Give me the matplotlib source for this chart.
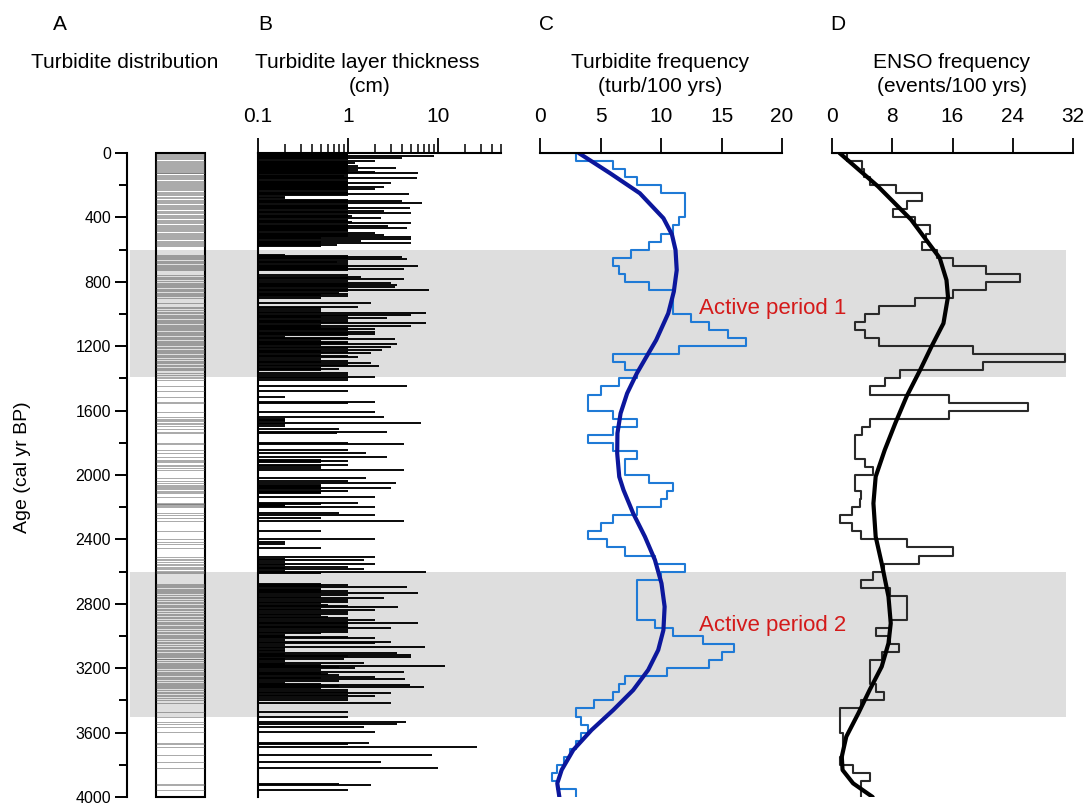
import numpy as np
import matplotlib
matplotlib.use('Agg')
import matplotlib.pyplot as plt
from matplotlib.patches import Rectangle
from matplotlib.ticker import FixedLocator, NullFormatter, NullLocator, MultipleLocator

plt.rcParams['font.family'] = ['Liberation Sans', 'DejaVu Sans']

# ---- data -------------------------------------------------------------
# turbidite layers: age (cal yr BP) and thickness (cm)
turb_age = [
    5, 12, 19, 24, 33, 40, 48, 54, 60, 68, 75, 81, 88, 95, 100, 106, 112, 116,
    122, 126, 134, 143, 150, 157, 164, 172, 178, 184, 192, 199, 204, 209, 218,
    226, 232, 240, 246, 255, 262, 271, 280, 290, 296, 304, 313, 320, 329, 336,
    344, 350, 358, 366, 375, 382, 391, 398, 406, 414, 420, 426, 437, 446, 453,
    460, 468, 474, 478, 486, 495, 502, 509, 516, 524, 528, 536, 544, 550, 557,
    564, 571, 578,
    633, 640, 644, 652, 660, 668, 675, 684, 694, 702, 710, 716, 722, 728, 760,
    768, 775, 785, 795, 805, 812, 820, 828, 834, 842, 851, 858, 867, 874, 882,
    890, 903, 934, 954, 965, 975, 985, 996, 1006, 1010, 1016, 1027, 1037, 1045,
    1050, 1058, 1066, 1074, 1080, 1085, 1095, 1102, 1110, 1118, 1124, 1132,
    1141, 1150, 1157, 1165, 1172, 1180, 1186, 1195, 1203, 1212, 1223, 1230,
    1238, 1244, 1255, 1262, 1269, 1278, 1290, 1298, 1306, 1315, 1323, 1333,
    1343, 1350, 1368, 1380, 1393, 1400, 1410,
    1447, 1476, 1513, 1544, 1555, 1606, 1642, 1650, 1658, 1665, 1675, 1685,
    1695, 1716, 1731, 1741, 1803, 1807, 1844, 1861, 1886, 1905, 1911, 1920,
    1938, 1945, 1958, 1969,
    2021, 2035, 2052, 2060, 2068, 2075, 2083, 2090, 2097, 2105, 2112, 2135,
    2172, 2178, 2182, 2188, 2193, 2201, 2234, 2248, 2269, 2284, 2348, 2397,
    2414, 2429, 2455, 2511, 2520, 2528, 2540, 2555, 2562, 2573, 2580, 2586,
    2595,
    2600, 2611, 2678, 2683, 2690, 2698, 2705, 2712, 2718, 2725, 2735, 2745,
    2755, 2766, 2777, 2787, 2795, 2807, 2812, 2822, 2830, 2838, 2848, 2863,
    2872, 2880, 2890, 2901, 2910, 2917, 2928, 2938, 2945, 2952, 2962, 2973,
    2980, 2994, 3000, 3008, 3014, 3022, 3035, 3045, 3055, 3066, 3075, 3087,
    3095, 3103, 3110, 3118, 3125, 3132, 3140, 3145, 3155, 3165, 3172, 3178,
    3186, 3195, 3201, 3210, 3221, 3228, 3236, 3245, 3252, 3260, 3269, 3280,
    3290, 3296, 3304, 3310, 3315, 3325, 3335, 3345, 3356, 3365, 3372, 3385,
    3400, 3414, 3470,
    3505, 3532, 3546, 3563, 3594, 3666, 3670, 3687, 3739, 3780, 3818, 3919,
    3925, 3956,
]
turb_cm = [
    1, 1, 9, 1, 4, 1, 2, 1, 1.2, 1, 1, 1.3, 1, 3.4, 1, 1.3, 1, 2,
    1, 6, 1, 0.9, 1, 5.8, 1, 1, 1, 3, 1, 1, 1, 2.5, 1,
    2, 1, 1, 1, 4.7, 1, 0.2, 0.2, 1, 4, 1, 6.6, 1, 1, 1,
    4.9, 1, 2.5, 1, 5, 1, 1.1, 1, 2.3, 1, 1, 1.1, 5, 1, 2.8,
    1, 4.5, 1, 1, 1, 2, 1, 2.5, 1, 5, 0.5, 5, 1.4, 0.5, 5,
    0.5, 0.75, 0.5,
    0.2, 1, 4, 1, 4.5, 1, 0.75, 1, 1, 6, 1, 1, 4.2, 1, 1,
    1.4, 1, 4.2, 1, 3, 1, 3.5, 1, 3.3, 1, 8, 1, 0.8, 1, 0.5,
    1, 0.5, 1.8, 1.3, 0.5, 0.5, 0.5, 7.4, 5, 1, 0.5, 2.7, 1, 0.5,
    1, 7.4, 0.5, 5, 0.5, 1, 2, 1, 2, 1, 2, 1,
    0.2, 1, 3.3, 0.5, 1, 1, 3.5, 0.5, 3, 1, 2.4, 0.5,
    1, 1.8, 0.5, 1, 1.3, 0.5, 1, 0.5, 1.8, 1, 2.2, 0.5,
    0.8, 0.5, 1, 1, 2, 1, 1,
    4.5, 1, 0.2, 2, 1, 2, 2.5, 0.2, 0.2, 0.2, 6.5, 0.2,
    0.2, 0.8, 2.7, 0.75, 1, 4.2, 1, 1.6, 2.7, 0.5, 1, 0.5,
    1, 0.5, 0.5, 4.2,
    1.6, 1, 3.4, 0.5, 0.5, 0.5, 3, 0.5, 1, 0.5, 0.5, 2,
    1.3, 0.2, 0.5, 0.2, 0.2, 2, 0.8, 2, 0.5, 4.2, 0.5, 2,
    0.2, 0.2, 0.5, 2, 0.2, 1.5, 0.2, 2, 0.2, 1, 0.2, 1.5,
    0.2,
    7.4, 0.5, 0.5, 1, 0.5, 4.5, 0.5, 0.5, 1, 0.5, 6, 1,
    0.5, 2.5, 1, 1, 0.5, 0.6, 1, 3.6, 0.5, 2, 1, 1,
    0.5, 0.6, 1, 2, 1, 6, 1, 1, 1, 3, 1, 1,
    0.5, 0.2, 0.2, 1, 2, 0.2, 3, 2, 0.2, 7.2, 0.2, 0.2,
    0.2, 3.5, 0.2, 5, 1, 5, 0.2, 0.9, 0.2, 1.5, 0.2, 0.5,
    12, 0.8, 1.2, 0.5, 4.2, 0.5, 0.6, 0.8, 2, 0.5, 4.3, 0.8,
    0.2, 0.5, 4.9, 0.8, 7, 0.5, 1, 1, 3, 1, 2, 1,
    1, 3, 1,
    1, 4.4, 3.5, 1.5, 2, 1.7, 1, 27, 8.5, 2.3, 10, 0.8,
    1.8, 1,
]

# 50-yr bins, 0-4000 cal yr BP
bin_edges = np.arange(0, 4001, 50)
turb_freq = [
    3, 6, 7, 8, 10, 12, 12, 12, 11.5, 11, 10, 9, 7.5, 6, 6.5, 7, 9, 11, 11, 11,
    12.5, 14, 15.5, 17, 11.5, 6, 7, 8, 6.5, 5, 4, 4, 6, 8, 6, 4, 6, 8, 7, 7,
    9, 11, 10.5, 10, 8, 6, 5, 4, 5.5, 7, 9.5, 12, 10, 8, 8, 8, 8, 8, 9.5, 11,
    13.5, 16, 15, 14, 10.5, 7, 6.5, 6, 4.5, 3, 3.4, 4, 3.4, 3, 2.5, 2, 1.4, 1, 1.4, 3,
]
enso_freq = [
    2, 4, 4.3, 5, 8.5, 12, 9.9, 8.1, 11, 13, 12.5, 12,
    13.9, 16, 20.5, 25, 20.5, 16, 11, 6.2, 4.4, 3, 4.4, 6.2,
    18.7, 31, 20, 9, 7, 5, 15.6, 26, 15.6, 5, 4, 3, 3, 3, 4.4, 5.5,
    3, 3, 3.9, 3.7, 2.6, 1, 2.6, 3.9, 10, 16, 11.5, 6.9, 5.5, 3.9, 7.7,
    10, 10, 10, 7.7, 5.9, 7.7, 8.9, 6.7, 5, 5, 5, 5.9, 6.9, 3.9, 1,
    1, 1, 1.5, 1.5, 1.5, 1, 2.8, 5, 3.9, 3.9,
]

# smoothed trends
turb_fit_age = [0, 126, 250, 405, 505, 602, 727, 861, 996, 1162, 1265, 1369, 1493,
                1617, 1741, 1866, 2011, 2093, 2238, 2383, 2528, 2673, 2818, 2963,
                3087, 3211, 3336, 3460, 3584, 3708, 3832, 3915, 4000]
turb_fit = [3.2, 5.8, 8.25, 10.2, 10.9, 11.2, 11.3, 11.06, 10.6, 9.6, 8.8, 8.0, 7.2,
            6.66, 6.4, 6.38, 6.55, 6.9, 7.7, 8.67, 9.5, 10.04, 10.3, 10.2,
            9.77, 8.94, 7.7, 6.05, 4.26, 2.75, 1.79, 1.43, 1.6]
enso_fit_age = [0, 207, 414, 652, 789, 893, 1058, 1203, 1348, 1513, 1679, 1845, 2010,
                2176, 2383, 2549, 2756, 2921, 3045, 3190, 3335, 3480, 3625, 3749,
                3832, 3915, 4000]
enso_fit = [1.0, 6.1, 10.5, 14.3, 15.2, 15.4, 14.8, 13.2, 11.7, 9.9, 8.4, 7.0, 5.8,
            5.5, 5.8, 6.6, 7.5, 7.8, 7.5, 6.6, 5.0, 3.5, 1.9, 1.3,
            1.4, 2.8, 5.4]

active_periods = [(600, 1390), (2600, 3500)]
active_labels = ['Active period 1', 'Active period 2']
active_label_age = [965, 2935]

# ---- layout helpers ---------------------------------------------------
W, H = 1091, 810
fig = plt.figure(figsize=(W / 100, H / 100), dpi=100)


def px_axes(x0, x1, y0, y1):
    return fig.add_axes([x0 / W, 1 - y1 / H, (x1 - x0) / W, (y1 - y0) / H])


def ftext(x, y, s, **kw):
    kw.setdefault('ha', 'center')
    kw.setdefault('va', 'center')
    kw.setdefault('fontsize', 15)
    fig.text(x / W, 1 - y / H, s, **kw)


def top_axis(ax):
    for side in ['right', 'bottom', 'left']:
        ax.spines[side].set_visible(False)
    ax.spines['top'].set_linewidth(1.5)
    ax.xaxis.tick_top()
    ax.yaxis.set_major_locator(NullLocator())
    ax.tick_params(axis='x', which='major', direction='out', length=10.5,
                   width=1.3, pad=9, labelsize=15)
    ax.tick_params(axis='x', which='minor', direction='out', length=6.5, width=1.1)
    ax.patch.set_visible(False)
    ax.set_ylim(4000, 0)


# background grey bands across all panels
ax_bg = px_axes(130, 1066, 153, 797)
ax_bg.set_ylim(4000, 0)
ax_bg.set_xlim(0, 1)
for lo, hi in active_periods:
    ax_bg.axhspan(lo, hi, color='#dedede', lw=0)
ax_bg.axis('off')
ax_bg.set_zorder(0)

# ---- A: turbidite distribution ---------------------------------------
axA = px_axes(127, 205, 153, 797)
axA.set_zorder(1)
axA.patch.set_visible(False)
axA.set_xlim(0, 1)
axA.set_ylim(4000, 0)
for side in ['right', 'bottom', 'top']:
    axA.spines[side].set_visible(False)
axA.spines['left'].set_linewidth(1.5)
axA.xaxis.set_major_locator(NullLocator())
axA.yaxis.set_major_locator(MultipleLocator(400))
axA.yaxis.set_minor_locator(MultipleLocator(200))
axA.tick_params(axis='y', which='major', length=8.5, width=1.4, pad=3, labelsize=11.5)
axA.tick_params(axis='y', which='minor', length=5.5, width=1.4)
col_x0 = 0.372
axA.hlines(turb_age, col_x0, 1, color='0.35', lw=0.6, alpha=0.6)
axA.add_patch(Rectangle((col_x0, 0), 1 - col_x0, 4000, fill=False, lw=1.5,
                        edgecolor='black', clip_on=False))

# ---- B: layer thickness ----------------------------------------------
axB = px_axes(258, 501, 153, 797)
axB.set_zorder(1)
axB.set_xscale('log')
axB.set_xlim(0.1, 50)
top_axis(axB)
axB.spines['left'].set_visible(True)
axB.spines['left'].set_linewidth(1.5)
axB.xaxis.set_major_locator(FixedLocator([0.1, 1, 10]))
axB.xaxis.set_minor_locator(FixedLocator([0.2, 0.3, 0.4, 0.5, 0.6, 0.7, 0.8, 0.9,
                                          2, 3, 4, 5, 6, 7, 8, 9, 20, 30, 40, 50]))
axB.xaxis.set_minor_formatter(NullFormatter())
axB.set_xticklabels(['0.1', '1', '10'])
axB.hlines(turb_age, 0.1, turb_cm, color='black', lw=1.35)

# ---- C: turbidite frequency ------------------------------------------
def step_xy(values):
    xs = np.concatenate([[0], np.repeat(values, 2)])
    ys = np.concatenate([[0], np.repeat(bin_edges, 2)[1:-1]])
    return xs, ys


axC = px_axes(540, 782, 153, 797)
axC.set_zorder(1)
axC.set_xlim(0, 20)
top_axis(axC)
axC.set_xticks([0, 5, 10, 15, 20])
xs, ys = step_xy(turb_freq)
axC.plot(xs, ys, color='#1f7ad6', lw=1.5)
axC.plot(turb_fit, turb_fit_age, color='#0c179c', lw=3, solid_capstyle='round')
for lab, age in zip(active_labels, active_label_age):
    axC.text(13.1, age, lab, color='#d41a1a', fontsize=16, va='center', ha='left',
             clip_on=False)

# ---- D: ENSO frequency -----------------------------------------------
axD = px_axes(832, 1073, 153, 797)
axD.set_zorder(1)
axD.set_xlim(0, 32)
top_axis(axD)
axD.set_xticks([0, 8, 16, 24, 32])
xs, ys = step_xy(enso_freq)
axD.plot(xs, ys, color='#2a2a2a', lw=1.5)
axD.plot(enso_fit, enso_fit_age, color='black', lw=3, solid_capstyle='round')

# ---- titles ------------------------------------------------------------
ftext(60, 25, 'A')
ftext(265, 25, 'B')
ftext(546, 25, 'C')
ftext(838, 25, 'D')
ftext(125, 62, 'Turbidite distribution')
ftext(367, 62, 'Turbidite layer thickness')
ftext(370, 87, '(cm)')
ftext(660, 62, 'Turbidite frequency')
ftext(660, 87, '(turb/100 yrs)')
ftext(952, 62, 'ENSO frequency')
ftext(952, 87, '(events/100 yrs)')
ftext(23, 467, 'Age (cal yr BP)', rotation=90, fontsize=14)

fig.savefig('out.png', dpi=100)
